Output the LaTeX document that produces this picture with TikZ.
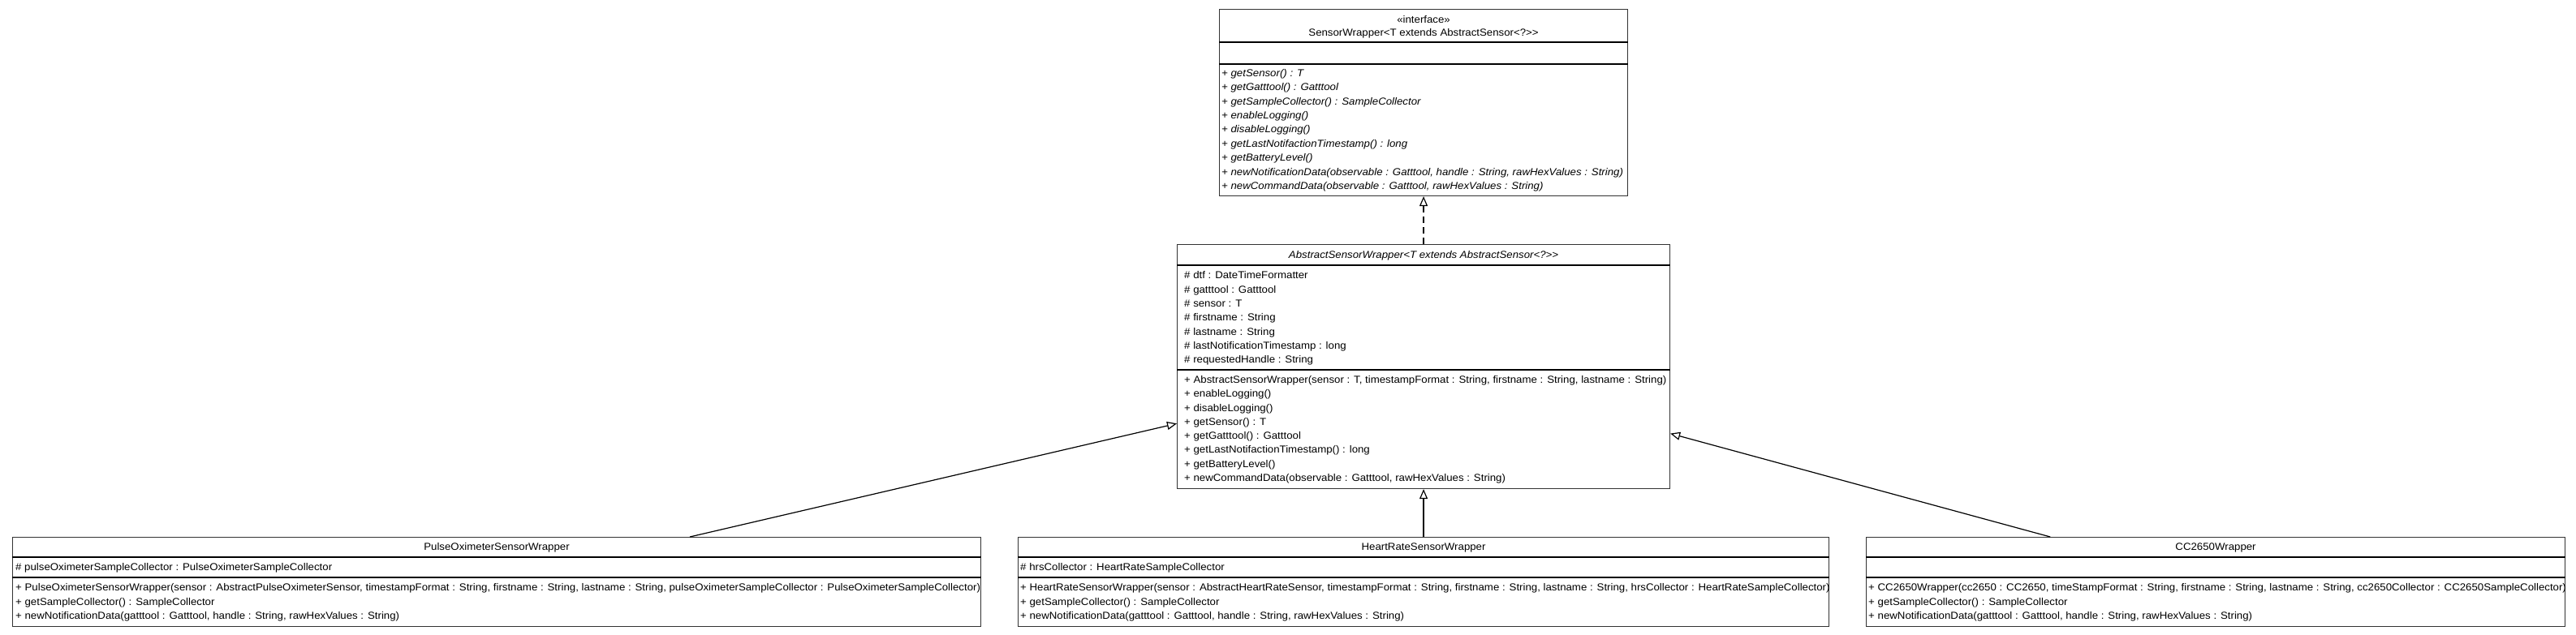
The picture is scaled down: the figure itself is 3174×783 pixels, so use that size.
\documentclass[tikz,border=0pt]{standalone}
\usepackage{fontspec}
\setmainfont{Liberation Sans}[FakeStretch=1.06]
\usetikzlibrary{arrows.meta}
\newcommand\umlmembers[7]{%
  \foreach \t [count=\i from 0] in {#7}{%
    \node[#6, anchor=base west] (#2\i) at ([xshift=#3pt, yshift={-(#4+\i*#5+4.4)*1pt}]#1.north west) {\t};}}
\newcommand\umldivider[2]{%
  \draw[divider] ([yshift=-#2pt]#1.north west) -- ([yshift=-#2pt]#1.north east);}
\newcommand\gtgt{>\kern0pt>}
\begin{document}
\begin{tikzpicture}[x=1pt,y=-1pt,
  classbox/.style={draw=black!80, line width=1.1pt, rectangle, inner sep=0pt, anchor=north west, fill=white},
  divider/.style={draw=black, line width=1.3pt},
  member/.style={inner sep=0pt, font=\fontsize{12.5}{17.3}\selectfont},
  amember/.style={inner sep=0pt, font=\fontsize{12.5}{17.3}\selectfont\itshape},
  ctitle/.style={inner sep=0pt, anchor=base, font=\fontsize{12.5}{17.3}\selectfont},
  gen/.style={draw=black, line width=1.2pt, -{Triangle[open, length=12pt, width=10pt, line width=1.2pt]}},
  real/.style={gen, dash pattern=on 8pt off 5pt}
]
\useasboundingbox[fill=white] (0,0) rectangle (3174,783);

% ---------- class boxes ----------
\node[classbox, minimum width=503pt, minimum height=230pt] (iface) at (1502,11) {};
\node[classbox, minimum width=607pt, minimum height=301pt] (abs) at (1450,301) {};
\node[classbox, minimum width=1193pt, minimum height=110pt] (pulse) at (15,662) {};
\node[classbox, minimum width=999pt, minimum height=110pt] (hrs) at (1254,662) {};
\node[classbox, minimum width=861pt, minimum height=110pt] (cc) at (2299,662) {};

% ---------- compartments ----------
\umldivider{iface}{41}
\umldivider{iface}{68}
\umldivider{abs}{26}
\umldivider{abs}{155}
\umldivider{pulse}{25}
\umldivider{pulse}{50}
\umldivider{hrs}{25}
\umldivider{hrs}{50}
\umldivider{cc}{25}
\umldivider{cc}{50}

% ---------- interface ----------
\node[ctitle] (ifaceS) at ([yshift=-17.4pt]iface.north) {«interface»};
\node[ctitle] (ifaceT) at ([yshift=-33.4pt]iface.north) {SensorWrapper<T extends AbstractSensor<?\gtgt};
\umlmembers{iface}{ifaceM}{3}{79}{17.4}{amember}{%
  {+ getSensor() : T},
  {+ getGatttool() : Gatttool},
  {+ getSampleCollector() : SampleCollector},
  {+ enableLogging()},
  {+ disableLogging()},
  {+ getLastNotifactionTimestamp() : long},
  {+ getBatteryLevel()},
  {+ newNotificationData(observable : Gatttool, handle : String, rawHexValues : String)},
  {+ newCommandData(observable : Gatttool, rawHexValues : String)}}

% ---------- abstract class ----------
\node[ctitle, font=\fontsize{12.5}{17.3}\selectfont\itshape] (absT) at ([yshift=-17.4pt]abs.north) {AbstractSensorWrapper<T extends AbstractSensor<?\gtgt};
\umlmembers{abs}{absA}{9}{38.5}{17.3}{member}{%
  {\# dtf : DateTimeFormatter},
  {\# gatttool : Gatttool},
  {\# sensor : T},
  {\# firstname : String},
  {\# lastname : String},
  {\# lastNotificationTimestamp : long},
  {\# requestedHandle : String}}
\umlmembers{abs}{absM}{9}{167}{17.3}{member}{%
  {+ AbstractSensorWrapper(sensor : T, timestampFormat : String, firstname : String, lastname : String)},
  {+ enableLogging()},
  {+ disableLogging()},
  {+ getSensor() : T},
  {+ getGatttool() : Gatttool},
  {+ getLastNotifactionTimestamp() : long},
  {+ getBatteryLevel()},
  {+ newCommandData(observable : Gatttool, rawHexValues : String)}}

% ---------- PulseOximeterSensorWrapper ----------
\node[ctitle] (pulseT) at ([yshift=-16.9pt]pulse.north) {PulseOximeterSensorWrapper};
\umlmembers{pulse}{pulseA}{4}{37.5}{17.3}{member}{%
  {\# pulseOximeterSampleCollector : PulseOximeterSampleCollector}}
\umlmembers{pulse}{pulseM}{4}{62.5}{17.3}{member}{%
  {+ PulseOximeterSensorWrapper(sensor : AbstractPulseOximeterSensor, timestampFormat : String, firstname : String, lastname : String, pulseOximeterSampleCollector : PulseOximeterSampleCollector)},
  {+ getSampleCollector() : SampleCollector},
  {+ newNotificationData(gatttool : Gatttool, handle : String, rawHexValues : String)}}

% ---------- HeartRateSensorWrapper ----------
\node[ctitle] (hrsT) at ([yshift=-16.9pt]hrs.north) {HeartRateSensorWrapper};
\umlmembers{hrs}{hrsA}{3}{37.5}{17.3}{member}{%
  {\# hrsCollector : HeartRateSampleCollector}}
\umlmembers{hrs}{hrsM}{3}{62.5}{17.3}{member}{%
  {+ HeartRateSensorWrapper(sensor : AbstractHeartRateSensor, timestampFormat : String, firstname : String, lastname : String, hrsCollector : HeartRateSampleCollector)},
  {+ getSampleCollector() : SampleCollector},
  {+ newNotificationData(gatttool : Gatttool, handle : String, rawHexValues : String)}}

% ---------- CC2650Wrapper ----------
\node[ctitle] (ccT) at ([yshift=-16.9pt]cc.north) {CC2650Wrapper};
\umlmembers{cc}{ccM}{3}{62.5}{17.3}{member}{%
  {+ CC2650Wrapper(cc2650 : CC2650, timeStampFormat : String, firstname : String, lastname : String, cc2650Collector : CC2650SampleCollector)},
  {+ getSampleCollector() : SampleCollector},
  {+ newNotificationData(gatttool : Gatttool, handle : String, rawHexValues : String)}}

% ---------- relations ----------
\draw[real] (abs) -- (iface);
\draw[gen] (pulse) -- (abs);
\draw[gen] (hrs) -- (abs);
\draw[gen] (cc) -- (abs);
\end{tikzpicture}
\end{document}
